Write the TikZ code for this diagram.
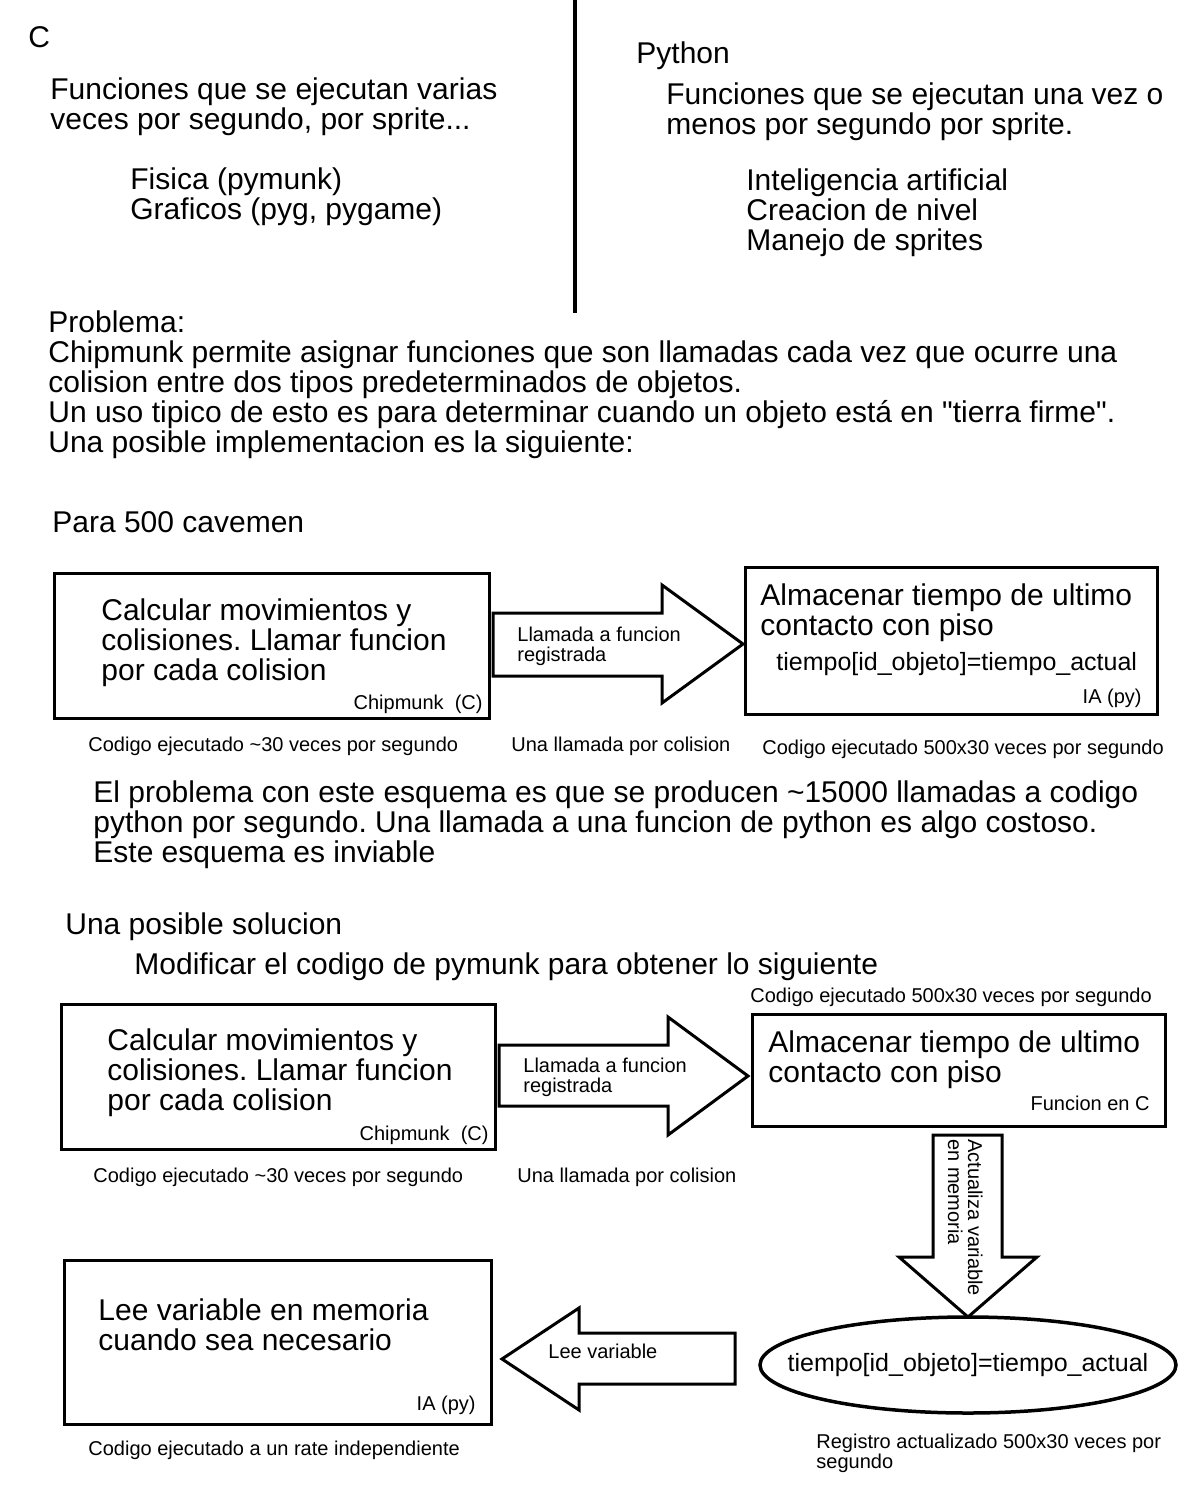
\documentclass[tikz,border=0pt]{standalone}
\usepackage{fontspec}
\setmainfont{Liberation Sans}[Ligatures=TeXOff]
\usetikzlibrary{shapes.geometric}
\frenchspacing
\begin{document}
\begin{tikzpicture}[x=0.5pt,y=-0.5pt,
  big/.style={font=\fontsize{15}{15}\selectfont, anchor=base west, inner sep=0pt, align=left},
  mid/.style={font=\fontsize{12.5}{15}\selectfont, anchor=base west, inner sep=0pt, align=left},
  small/.style={font=\fontsize{10}{10}\selectfont, anchor=base west, inner sep=0pt, align=left},
  smallr/.style={font=\fontsize{10}{10}\selectfont, anchor=base east, inner sep=0pt},
  box/.style={draw, line width=1.5pt, inner sep=0pt},
  blk/.style={draw, line width=1.5pt, line join=miter, fill=white}]
\useasboundingbox (0,0) rectangle (1200,1500);

% top section (multi-line nodes are anchored at the baseline of their last line)
\coordinate (vtop) at (575,0);
\coordinate (vbot) at (575,313);
\draw[line width=2pt] (vtop) -- (vbot);
\node[big] (tC) at (28,47) {C};
\node[big] (tCdesc) at (50,129) {Funciones que se ejecutan varias\\veces por segundo, por sprite...};
\node[big] (tCitems) at (130,219) {Fisica (pymunk)\\Graficos (pyg, pygame)};
\node[big] (tPy) at (636,63) {Python};
\node[big] (tPydesc) at (666,134) {Funciones que se ejecutan una vez o\\menos por segundo por sprite.};
\node[big] (tPyitems) at (746,250) {Inteligencia artificial\\Creacion de nivel\\Manejo de sprites};
\node[big] (tProb) at (48,452) {Problema:\\Chipmunk permite asignar funciones que son llamadas cada vez que ocurre una\\colision entre dos tipos predeterminados de objetos.\\Un uso tipico de esto es para determinar cuando un objeto está en "tierra firme".\\Una posible implementacion es la siguiente:};
\node[big] (tPara) at (52,532) {Para 500 cavemen};

% first diagram
\node[box, minimum width=217.5pt, minimum height=72.5pt] (b1) at (271.5,645.5) {};
\node[big] (b1t) at (101,680) {Calcular movimientos y\\colisiones. Llamar funcion\\por cada colision};
\node[smallr] (b1l) at (483,709) {Chipmunk\ \ (C)};
\node[box, minimum width=206pt, minimum height=73.5pt] (b2) at (951,640.5) {};
\node[big] (b2t) at (760,635) {Almacenar tiempo de ultimo\\contacto con piso};
\node[mid] (b2f) at (776,670) {tiempo[id\_objeto]=tiempo\_actual};
\node[smallr] (b2l) at (1142,703) {IA (py)};
\draw[blk] (493,613) -- (662,613) -- (662,585) -- (743,644) -- (662,703) -- (662,676) -- (493,676) -- cycle;
\node[small] (a1t) at (517,661) {Llamada a funcion\\registrada};
\node[small] (c1) at (88,751) {Codigo ejecutado \textasciitilde30 veces por segundo};
\node[small] (c2) at (511,751) {Una llamada por colision};
\node[small] (c3) at (762,754) {Codigo ejecutado 500x30 veces por segundo};

\node[big] (tEl) at (93,862) {El problema con este esquema es que se producen \textasciitilde15000 llamadas a codigo\\python por segundo. Una llamada a una funcion de python es algo costoso.\\Este esquema es inviable};
\node[big] (tUna) at (65,934) {Una posible solucion};
\node[big] (tMod) at (134,974) {Modificar el codigo de pymunk para obtener lo siguiente};

% second diagram
\node[small] (c4) at (750,1002) {Codigo ejecutado 500x30 veces por segundo};
\node[box, minimum width=217pt, minimum height=72.5pt] (b3) at (278,1076.5) {};
\node[big] (b3t) at (107,1110) {Calcular movimientos y\\colisiones. Llamar funcion\\por cada colision};
\node[smallr] (b3l) at (489,1140) {Chipmunk\ \ (C)};
\draw[blk] (499,1045) -- (668,1045) -- (668,1017) -- (748,1076) -- (668,1135) -- (668,1106) -- (499,1106) -- cycle;
\node[small] (a2t) at (523,1092) {Llamada a funcion\\registrada};
\node[box, minimum width=206.5pt, minimum height=56pt] (b4) at (958.5,1070) {};
\node[big] (b4t) at (768,1082) {Almacenar tiempo de ultimo\\contacto con piso};
\node[smallr] (b4l) at (1150,1110) {Funcion en C};
\node[small] (c5) at (93,1182) {Codigo ejecutado \textasciitilde30 veces por segundo};
\node[small] (c6) at (517,1182) {Una llamada por colision};

\draw[blk] (933,1135) -- (1002,1135) -- (1002,1257) -- (1037,1257) -- (968,1317) -- (899,1257) -- (933,1257) -- cycle;
\node[font=\fontsize{10}{10}\selectfont, inner sep=0pt, align=left, rotate=-90, anchor=north west] (a3t) at (983,1139) {Actualiza variable\\en memoria};

\node[draw, ellipse, line width=1.75pt, minimum width=208pt, minimum height=48pt, inner sep=0pt] (el) at (968,1365) {};
\node[font=\fontsize{12.5}{15}\selectfont, inner sep=0pt] (elt) at (el.center) {tiempo[id\_objeto]=tiempo\_actual};
\node[small] (c7) at (816,1468) {Registro actualizado 500x30 veces por\\segundo};

\draw[blk] (735,1333) -- (579,1333) -- (579,1308) -- (502,1359) -- (579,1410) -- (579,1384) -- (735,1384) -- cycle;
\node[small] (a4t) at (548,1358) {Lee variable};

\node[box, minimum width=213.5pt, minimum height=82pt] (b5) at (277.5,1342) {};
\node[big] (b5t) at (98,1350) {Lee variable en memoria\\cuando sea necesario};
\node[smallr] (b5l) at (476,1410) {IA (py)};
\node[small] (c8) at (88,1455) {Codigo ejecutado a un rate independiente};
\end{tikzpicture}
\end{document}
